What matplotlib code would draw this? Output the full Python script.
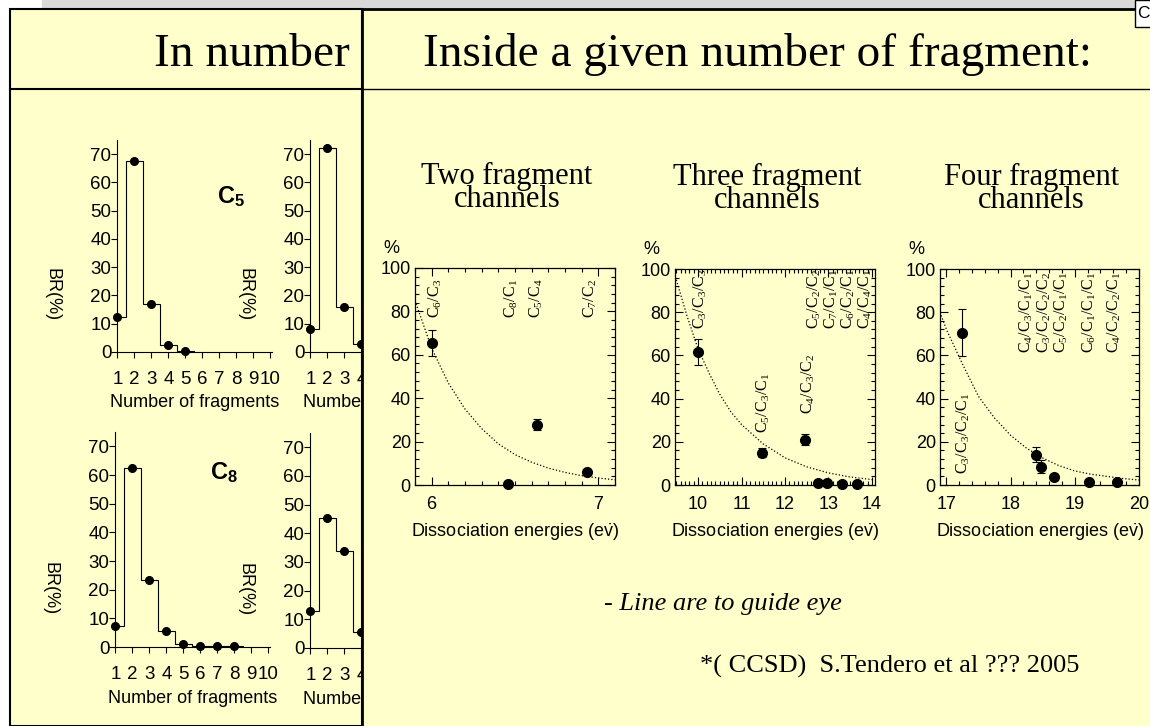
import numpy as np
import matplotlib.pyplot as plt
from matplotlib.patches import Rectangle
from matplotlib.ticker import MultipleLocator
from matplotlib.transforms import Bbox

plt.rcParams['mathtext.default'] = 'regular'

# left panel: branching ratio against number of fragments
br_c5 = [12.5, 67.5, 17.0, 2.5, 0.5]
br_top2 = [8.0, 72.0, 16.0, 3.0, 0.8]
br_c8 = [7.5, 62.5, 23.5, 5.5, 1.0, 0.4, 0.2, 0.2]
br_bot2 = [13.0, 45.5, 34.0, 5.5, 1.5]
frag_ticks = [1, 2, 3, 4, 5, 6, 7, 8, 9, 10]

# right panel: branching ratio against dissociation energy (C9)
e_two = [6.0, 6.46, 6.63, 6.93]
br_two = [65.5, 0.5, 27.7, 6.0]
err_two = [6.0, 0.0, 2.5, 1.0]
lab_two = ['C_6/C_3', 'C_8/C_1', 'C_5/C_4', 'C_7/C_2']
lab_two_x = [6.02, 6.48, 6.63, 6.95]
lab_two_y = [77, 77, 77, 77]
guide_two_x = [5.9, 6.0, 6.1, 6.2, 6.3, 6.4, 6.5, 6.6, 6.7, 6.8, 6.9, 7.0, 7.1]
guide_two_y = [85, 63, 47, 35, 26, 19, 14, 10.5, 7.8, 5.8, 4.3, 3.2, 2.4]

e_three = [10.0, 11.47, 12.46, 12.76, 12.97, 13.31, 13.66]
br_three = [61.5, 15.0, 21.0, 1.0, 0.8, 0.4, 0.3]
err_three = [6.0, 2.0, 2.5, 0.5, 0.5, 0.3, 0.3]
lab_three = ['C_3/C_3/C_3', 'C_5/C_3/C_1', 'C_4/C_3/C_2',
             'C_5/C_2/C_2', 'C_7/C_1/C_1', 'C_6/C_2/C_1', 'C_4/C_4/C_1']
lab_three_x = [10.05, 11.5, 12.53, 12.67, 13.06, 13.45, 13.84]
lab_three_y = [72, 24, 33, 72, 72, 72, 72]
guide_three_x = [9.5, 9.75, 10.0, 10.25, 10.5, 10.75, 11.0, 11.5, 12.0, 12.5, 13.0, 13.5, 14.05]
guide_three_y = [95, 78, 63, 52, 42, 34, 28, 19, 12.6, 8.4, 5.6, 3.7, 2.4]

e_four = [17.25, 18.4, 18.48, 18.68, 19.22, 19.65]
br_four = [70.5, 14.0, 8.5, 3.5, 1.5, 1.5]
err_four = [11.0, 3.5, 3.0, 1.0, 0.5, 0.5]
lab_four = ['C_3/C_3/C_2/C_1', 'C_4/C_3/C_1/C_1', 'C_3/C_2/C_2/C_2',
            'C_5/C_2/C_1/C_1', 'C_6/C_1/C_1/C_1', 'C_4/C_2/C_2/C_1']
lab_four_x = [17.27, 18.25, 18.52, 18.79, 19.23, 19.62]
lab_four_y = [5, 61, 61, 61, 61, 61]
guide_four_x = [16.9, 17.0, 17.25, 17.5, 17.75, 18.0, 18.25, 18.5, 18.75, 19.0, 19.25, 19.5, 19.75, 20.0]
guide_four_y = [80, 72, 56, 41, 31, 23, 17, 12.5, 9, 6.5, 5, 4, 3, 2.3]

W, H = 1150, 726
YELLOW = '#ffffcc'
SANS = 'Liberation Sans'
SERIF = 'Liberation Serif'
LEFT_CLIP = Bbox([[0, 0], [362, H]])   # display pixels, left panel only


def box(x0, y0, x1, y1):
    # pixel box (top-left origin) -> figure fraction rect
    return [x0 / W, 1 - y1 / H, (x1 - x0) / W, (y1 - y0) / H]


def ftext(x, y, s, **kw):
    return fig.text(x / W, 1 - y / H, s, **kw)


fig = plt.figure(figsize=(W / 100, H / 100), dpi=100, facecolor='white')

# slide background
fig.add_artist(Rectangle((42 / W, 1 - 9 / H), (1135 - 42) / W, 9 / H,
                         transform=fig.transFigure, color='#d9d9d9', zorder=0))
fig.add_artist(Rectangle((10 / W, 0), 352 / W, 1 - 9 / H, transform=fig.transFigure,
                         facecolor=YELLOW, edgecolor='k', lw=1.5, zorder=0))
fig.add_artist(plt.Line2D([10 / W, 362 / W], [1 - 89 / H] * 2, color='k', lw=1.5, zorder=0))
ftext(350, 66, 'In number', ha='right', va='baseline', family=SERIF, fontsize=34)


def hist_panel(rect, values, name=None, name_xy=None, ticks=frag_ticks):
    ax = fig.add_axes(rect, zorder=1)
    ax.patch.set_visible(False)
    n = np.arange(1, len(values) + 1)
    ax.stairs(values, np.arange(0.5, len(values) + 1), baseline=0, color='k', lw=0.8)
    ax.plot(n, values, 'o', color='k', ms=5.5, clip_on=False)
    ax.set_xlim(0.98, 10.1)
    ax.set_ylim(0, 75)
    ax.set_xticks(ticks)
    ax.set_yticks(np.arange(0, 71, 10))
    for s in ['top', 'right']:
        ax.spines[s].set_visible(False)
    for s in ['left', 'bottom']:
        ax.spines[s].set_linewidth(0.8)
    ax.tick_params(direction='out', length=4, width=0.8, labelsize=13.5,
                   labelfontfamily=SANS)
    ax.tick_params(axis='x', pad=10)
    ax.tick_params(axis='y', pad=0)
    for lab in ax.get_xticklabels():
        lab.set_clip_on(True)
        lab.set_clip_box(LEFT_CLIP)
    t = ax.text(0.5, -0.24, 'Number of fragments', transform=ax.transAxes, ha='center',
                va='center', fontsize=13, family=SANS, clip_on=True)
    t.set_clip_box(LEFT_CLIP)
    ax.text(-0.42, 0.27, 'BR(%)', transform=ax.transAxes, ha='center', va='center',
            rotation=-90, fontsize=13, family=SANS)
    if name:
        ax.text(name_xy[0], name_xy[1], name, ha='center', va='center', fontsize=17,
                family=SANS, weight='bold')
    return ax


hist_panel(box(117, 140, 272, 352), br_c5, '$C_5$', (7.7, 55))
hist_panel(box(310, 140, 465, 352), br_top2, ticks=frag_ticks[:4])
hist_panel(box(115, 432, 270, 647), br_c8, '$C_8$', (7.4, 61))
hist_panel(box(310, 433, 465, 648), br_bot2, ticks=frag_ticks[:4])

# right panel drawn over the clipped second column
fig.add_artist(Rectangle((362 / W, -0.01), (W - 362 + 20) / W, 1 - 9 / H + 0.01,
                         transform=fig.transFigure, facecolor=YELLOW, edgecolor='k',
                         lw=2, zorder=2))
fig.add_artist(plt.Line2D([362 / W, 1], [1 - 89 / H] * 2, color='k', lw=1, zorder=2.1))
fig.add_artist(Rectangle((1135 / W, 1 - 27 / H), 30 / W, 27 / H, transform=fig.transFigure,
                         facecolor='white', edgecolor='k', lw=1, zorder=2.1))
ftext(1137, 14, 'C', ha='left', va='center', family=SANS, fontsize=12.5, zorder=2.2)
ftext(423, 66, 'Inside a given number of fragment:', ha='left', va='baseline',
      family=SERIF, fontsize=34, zorder=3)


def channel_panel(rect, xlim, xmajor, xminor, e, br, err, gx, gy, labs, lx, ly, title):
    ax = fig.add_axes(rect, zorder=3)
    ax.patch.set_visible(False)
    ax.plot(gx, gy, ls=':', color='k', lw=0.9)
    ax.errorbar(e, br, yerr=err, fmt='o', color='k', ms=7, capsize=3,
                elinewidth=0.8, capthick=0.8, clip_on=False)
    for s, x, y in zip(labs, lx, ly):
        ax.text(x, y, '$' + s + '$', rotation=90, ha='center', va='bottom',
                family=SERIF, fontsize=11.5, clip_on=True)
    ax.set_xlim(*xlim)
    ax.set_ylim(0, 100)
    ax.xaxis.set_major_locator(MultipleLocator(xmajor))
    ax.xaxis.set_minor_locator(MultipleLocator(xminor))
    ax.yaxis.set_major_locator(MultipleLocator(20))
    ax.yaxis.set_minor_locator(MultipleLocator(4))
    for s in ax.spines.values():
        s.set_linewidth(0.9)
    ax.tick_params(which='both', direction='in', top=True, right=True, width=0.8,
                   labelsize=13, labelfontfamily=SANS)
    ax.tick_params(which='major', length=6)
    ax.tick_params(which='minor', length=3)
    ax.tick_params(axis='x', pad=8)
    ax.tick_params(axis='y', pad=3)
    ax.text(-0.12, 1.09, '%', transform=ax.transAxes, ha='center', va='center',
            fontsize=13, family=SANS)
    ax.text(0.5, -0.217, r'Dissociation energies (e$\dot{v}$)', transform=ax.transAxes,
            ha='center', va='center', fontsize=13, family=SANS)
    ax.text(0.46, 1.37, title, transform=ax.transAxes, ha='center', va='center',
            family=SERIF, fontsize=22, linespacing=0.72)
    return ax


channel_panel(box(415, 268, 615, 485), (5.9, 7.1), 1, 0.1, e_two, br_two, err_two,
              guide_two_x, guide_two_y, lab_two, lab_two_x, lab_two_y,
              'Two fragment\nchannels')
channel_panel(box(675, 269, 875, 485), (9.47, 14.07), 1, 0.1, e_three, br_three, err_three,
              guide_three_x, guide_three_y, lab_three, lab_three_x, lab_three_y,
              'Three fragment\nchannels')
channel_panel(box(940, 269, 1139, 485), (16.9, 20.0), 1, 0.2, e_four, br_four, err_four,
              guide_four_x, guide_four_y, lab_four, lab_four_x, lab_four_y,
              'Four fragment\nchannels')

ftext(604, 610, '- Line are to guide eye', ha='left', va='baseline', family=SERIF,
      style='italic', fontsize=19, zorder=3)
ftext(700, 673, '*( CCSD)  S.Tendero et al ??? 2005', ha='left', va='baseline',
      family=SERIF, fontsize=19, zorder=3)

fig.savefig('out.png', dpi=100, facecolor='white')
